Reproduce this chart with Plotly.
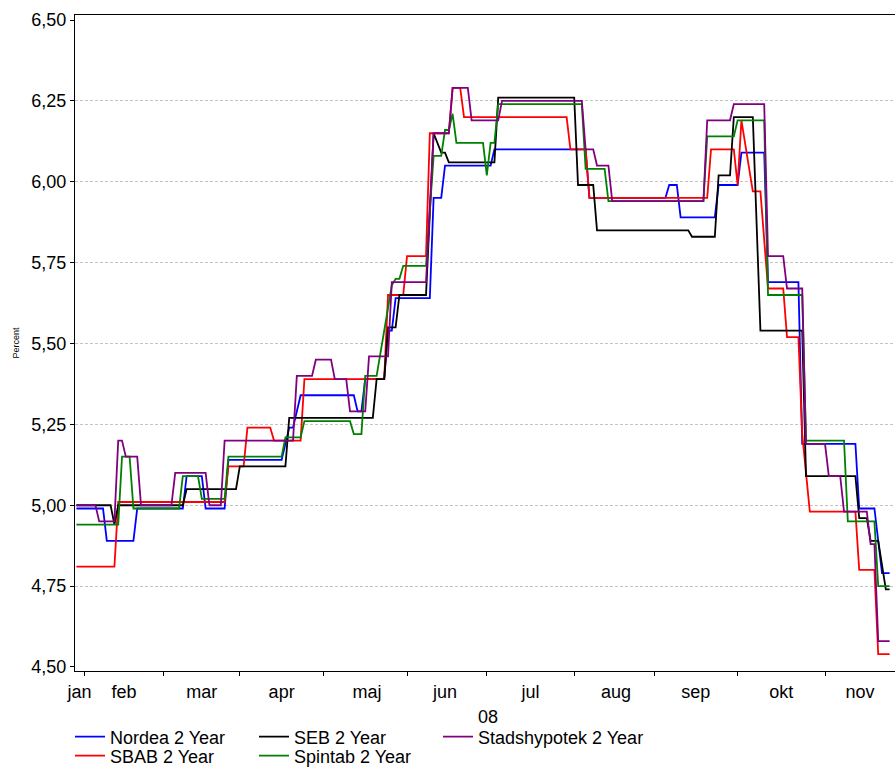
import datetime as dt
import plotly.graph_objects as go

# ---------------- data (2008) ----------------
nordea_dates = ["2008-01-30", "2008-02-08", "2008-02-11", "2008-02-20", "2008-02-21", "2008-03-10",
                "2008-03-11", "2008-03-17", "2008-03-18", "2008-03-26", "2008-03-27", "2008-04-16",
                "2008-04-18", "2008-04-21", "2008-04-23", "2008-05-13", "2008-05-14", "2008-05-15",
                "2008-05-16", "2008-05-23", "2008-05-26", "2008-05-27", "2008-05-28", "2008-06-10",
                "2008-06-11", "2008-06-13", "2008-06-16", "2008-07-02", "2008-07-03", "2008-08-06",
                "2008-08-07", "2008-09-04", "2008-09-05", "2008-09-09", "2008-09-10", "2008-09-23",
                "2008-09-24", "2008-10-01", "2008-10-02", "2008-10-10", "2008-10-13", "2008-10-23",
                "2008-10-24", "2008-11-13", "2008-11-14", "2008-11-20", "2008-11-24", "2008-11-26"]
nordea_values = [4.99, 4.99, 4.89, 4.89, 4.99, 4.99,
                 5.09, 5.09, 4.99, 4.99, 5.14, 5.14,
                 5.24, 5.24, 5.34, 5.34, 5.29, 5.29,
                 5.39, 5.39, 5.54, 5.54, 5.64, 5.64,
                 5.95, 5.95, 6.05, 6.05, 6.10, 6.10,
                 5.95, 5.95, 5.99, 5.99, 5.89, 5.89,
                 5.99, 5.99, 6.09, 6.09, 5.69, 5.69,
                 5.19, 5.19, 4.99, 4.99, 4.79, 4.79]

sbab_dates = ["2008-01-30", "2008-02-13", "2008-02-14", "2008-03-26", "2008-03-27", "2008-04-02",
              "2008-04-03", "2008-04-11", "2008-04-14", "2008-04-23", "2008-04-24", "2008-05-23",
              "2008-05-26", "2008-05-30", "2008-06-02", "2008-06-09", "2008-06-10", "2008-06-17",
              "2008-06-18", "2008-06-20", "2008-06-23", "2008-07-30", "2008-07-31", "2008-08-06",
              "2008-08-07", "2008-09-19", "2008-09-22", "2008-09-30", "2008-10-01", "2008-10-02",
              "2008-10-07", "2008-10-09", "2008-10-13", "2008-10-17", "2008-10-20", "2008-10-23",
              "2008-10-24", "2008-10-28", "2008-11-13", "2008-11-14", "2008-11-20", "2008-11-21",
              "2008-11-26"]
sbab_values = [4.81, 4.81, 5.01, 5.01, 5.12, 5.12,
               5.24, 5.24, 5.20, 5.20, 5.39, 5.39,
               5.65, 5.65, 5.77, 5.77, 6.15, 6.15,
               6.29, 6.29, 6.20, 6.20, 6.10, 6.10,
               5.95, 5.95, 6.10, 6.10, 5.99, 6.19,
               5.97, 5.97, 5.67, 5.67, 5.52, 5.52,
               5.22, 4.98, 4.98, 4.80, 4.80, 4.54,
               4.54]

seb_dates = ["2008-01-30", "2008-02-12", "2008-02-13", "2008-02-14", "2008-03-10", "2008-03-11",
             "2008-03-31", "2008-04-01", "2008-04-17", "2008-04-18", "2008-05-20", "2008-05-21",
             "2008-05-23", "2008-05-26", "2008-05-28", "2008-05-29", "2008-06-09", "2008-06-11",
             "2008-06-13", "2008-06-16", "2008-06-17", "2008-07-03", "2008-07-04", "2008-08-01",
             "2008-08-04", "2008-08-08", "2008-08-11", "2008-09-12", "2008-09-15", "2008-09-23",
             "2008-09-24", "2008-09-29", "2008-09-30", "2008-10-07", "2008-10-09", "2008-10-24",
             "2008-10-27", "2008-11-13", "2008-11-14", "2008-11-18", "2008-11-19", "2008-11-21",
             "2008-11-25", "2008-11-26"]
seb_values = [5.00, 5.00, 4.94, 5.00, 5.00, 5.05,
              5.05, 5.12, 5.12, 5.27, 5.27, 5.39,
              5.39, 5.55, 5.55, 5.65, 5.65, 6.15,
              6.09, 6.09, 6.06, 6.06, 6.26, 6.26,
              5.99, 5.99, 5.85, 5.85, 5.83, 5.83,
              6.02, 6.02, 6.20, 6.20, 5.54, 5.54,
              5.09, 5.09, 4.96, 4.96, 4.89, 4.89,
              4.74, 4.74]

spintab_dates = ["2008-01-30", "2008-02-14", "2008-02-15", "2008-02-19", "2008-02-20", "2008-03-07",
                 "2008-03-10", "2008-03-14", "2008-03-17", "2008-03-26", "2008-03-27", "2008-04-16",
                 "2008-04-17", "2008-04-23", "2008-04-24", "2008-05-12", "2008-05-13", "2008-05-15",
                 "2008-05-16", "2008-05-21", "2008-05-27", "2008-05-28", "2008-05-29", "2008-05-30",
                 "2008-06-09", "2008-06-11", "2008-06-13", "2008-06-16", "2008-06-17", "2008-06-18",
                 "2008-06-19", "2008-06-30", "2008-07-01", "2008-07-02", "2008-07-03", "2008-07-04",
                 "2008-08-05", "2008-08-06", "2008-08-13", "2008-08-14", "2008-09-18", "2008-09-19",
                 "2008-09-30", "2008-10-01", "2008-10-10", "2008-10-13", "2008-10-24", "2008-10-27",
                 "2008-11-10", "2008-11-11", "2008-11-20", "2008-11-21", "2008-11-26"]
spintab_values = [4.94, 4.94, 5.15, 5.15, 4.99, 4.99,
                  5.09, 5.09, 5.02, 5.02, 5.15, 5.15,
                  5.21, 5.21, 5.26, 5.26, 5.22, 5.22,
                  5.40, 5.40, 5.68, 5.70, 5.70, 5.74,
                  5.74, 6.08, 6.08, 6.16, 6.16, 6.21,
                  6.12, 6.12, 6.02, 6.12, 6.12, 6.24,
                  6.24, 6.04, 6.04, 5.94, 5.94, 6.14,
                  6.14, 6.19, 6.19, 5.65, 5.65, 5.20,
                  5.20, 4.95, 4.95, 4.75, 4.75]

stads_dates = ["2008-01-30", "2008-02-06", "2008-02-07", "2008-02-13", "2008-02-14", "2008-02-15",
               "2008-02-18", "2008-02-21", "2008-02-22", "2008-03-05", "2008-03-06", "2008-03-18",
               "2008-03-19", "2008-03-25", "2008-03-26", "2008-04-21", "2008-04-22", "2008-04-28",
               "2008-04-29", "2008-05-05", "2008-05-06", "2008-05-09", "2008-05-12", "2008-05-16",
               "2008-05-19", "2008-05-26", "2008-05-27", "2008-06-09", "2008-06-11", "2008-06-17",
               "2008-06-18", "2008-06-24", "2008-06-25", "2008-07-04", "2008-07-07", "2008-08-05",
               "2008-08-06", "2008-08-08", "2008-08-11", "2008-08-14", "2008-08-15", "2008-09-18",
               "2008-09-19", "2008-09-29", "2008-09-30", "2008-10-10", "2008-10-13", "2008-10-17",
               "2008-10-20", "2008-10-24", "2008-10-27", "2008-11-03", "2008-11-04", "2008-11-07",
               "2008-11-10", "2008-11-18", "2008-11-19", "2008-11-20", "2008-11-21", "2008-11-26"]
stads_values = [5.00, 5.00, 4.95, 4.95, 5.20, 5.20,
                5.15, 5.15, 5.00, 5.00, 5.10, 5.10,
                5.00, 5.00, 5.20, 5.20, 5.40, 5.40,
                5.45, 5.45, 5.39, 5.39, 5.29, 5.29,
                5.46, 5.46, 5.69, 5.69, 6.15, 6.15,
                6.29, 6.29, 6.19, 6.19, 6.25, 6.25,
                6.10, 6.10, 6.05, 6.05, 5.94, 5.94,
                6.19, 6.19, 6.24, 6.24, 5.77, 5.77,
                5.67, 5.67, 5.19, 5.19, 5.09, 5.09,
                4.98, 4.98, 4.88, 4.88, 4.58, 4.58]

month_labels = ["jan", "feb", "mar", "apr", "maj", "jun", "jul", "aug", "sep", "okt", "nov"]
y_ticks = [4.50, 4.75, 5.00, 5.25, 5.50, 5.75, 6.00, 6.25, 6.50]
x_title = "08"
y_title = "Percent"

# ---------------- figure ----------------
FONT = "Liberation Sans, Arial, sans-serif"
x_start = dt.datetime(2008, 1, 29, 15)
x_end = dt.datetime(2008, 11, 27, 10)
holiday = dt.datetime(2008, 3, 21)


def to_trading_day(d):
    # move a position that falls in a weekend / removed day onto the next trading day
    while d.weekday() >= 5 or d.date() == holiday.date():
        d = dt.datetime(d.year, d.month, d.day) + dt.timedelta(days=1)
    return d


month_starts = [dt.datetime(2008, m, 1) for m in range(1, 13)]
label_pos = []
for i in range(len(month_labels)):
    a = max(month_starts[i], x_start)
    b = min(month_starts[i + 1], x_end)
    label_pos.append(to_trading_day(a + (b - a) / 2))
tick_pos = [to_trading_day(m) for m in month_starts[1:11]]

series = [
    ("Nordea 2 Year", nordea_dates, nordea_values, "#0000ff", "legend", 1, None),
    ("SBAB 2 Year", sbab_dates, sbab_values, "#ff0000", "legend2", 1, None),
    ("SEB 2 Year", seb_dates, seb_values, "#000000", "legend", 2, None),
    ("Spintab 2 Year", spintab_dates, spintab_values, "#008000", "legend2", 2, None),
    ("Stadshypotek 2 Year", stads_dates, stads_values, "#800080", "legend", 3, 220),
]

fig = go.Figure()
for name, xs, ys, color, leg, rank, lw in series:
    kw = {}
    if lw:
        kw["legendwidth"] = lw
    fig.add_trace(go.Scatter(x=xs, y=ys, mode="lines", name=name,
                             line=dict(color=color, width=1.8),
                             legend=leg, legendrank=rank, **kw))

legend_common = dict(orientation="h", xref="container", yref="container",
                     xanchor="left", yanchor="middle", entrywidth=139,
                     font=dict(family=FONT, size=18, color="#000000"),
                     bgcolor="rgba(0,0,0,0)", itemwidth=30, traceorder="normal")

fig.update_layout(
    width=895, height=767,
    margin=dict(l=75, r=0, t=15, b=96, autoexpand=False),
    paper_bgcolor="white", plot_bgcolor="white",
    separators=", ",
    font=dict(family=FONT, size=18, color="#000000"),
    showlegend=True,
    legend=dict(x=70 / 895, y=1 - 737 / 767, **legend_common),
    legend2=dict(x=70 / 895, y=1 - 756 / 767, **legend_common),
    xaxis=dict(
        type="date", automargin=True,
        range=[x_start, x_end],
        rangebreaks=[dict(bounds=["sat", "mon"]), dict(values=["2008-03-21"])],
        tickmode="array", tickvals=label_pos, ticktext=month_labels,
        ticks="", ticklabelstandoff=4, showgrid=False, zeroline=False,
        showline=True, linecolor="#000000", linewidth=1, mirror=True,
        tickfont=dict(family=FONT, size=18, color="#000000"),
        minor=dict(tickmode="array", tickvals=tick_pos, ticks="outside",
                   ticklen=4, tickwidth=1, tickcolor="#000000", showgrid=False),
    ),
    yaxis=dict(
        automargin=True,
        range=[4.4876, 6.5155],
        tickmode="array", tickvals=y_ticks, tickformat=".2f",
        ticks="outside", ticklen=4, tickwidth=1, tickcolor="#000000",
        showgrid=False, zeroline=False,
        showline=True, linecolor="#000000", linewidth=1,
        tickfont=dict(family=FONT, size=18, color="#000000"),
        minor=dict(tickmode="array", tickvals=y_ticks[1:-1], ticks="",
                   showgrid=True, gridcolor="#c4c4c4", gridwidth=1, griddash="3px,2px"),
        title=dict(text=y_title, font=dict(family=FONT, size=9, color="#000000"), standoff=10),
    ),
    annotations=[dict(text=x_title, xref="paper", yref="paper", x=0.5037, y=-0.0701,
                      xanchor="center", yanchor="middle", showarrow=False,
                      font=dict(family=FONT, size=18, color="#000000"))],
)

fig.write_html("out.html", config={"displayModeBar": False},
               post_script="document.body.style.margin='0px';")
